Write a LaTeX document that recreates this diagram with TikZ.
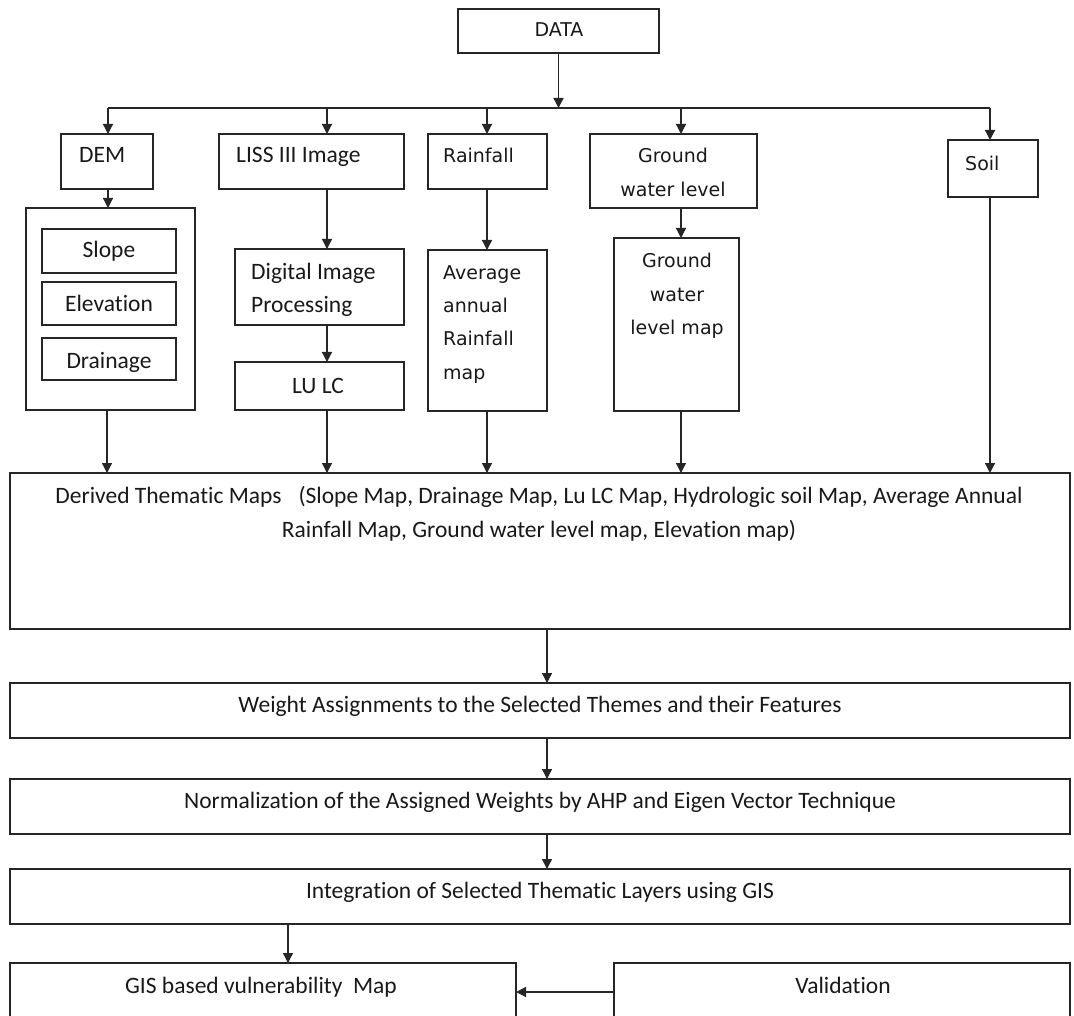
\documentclass[tikz,border=0pt]{standalone}
\usepackage{fontspec}
\setmainfont{Carlito}[Ligatures=NoCommon]
\newfontfamily\tahf{DejaVu Sans}[Ligatures=NoCommon]
\usetikzlibrary{arrows.meta}
\begin{document}
\begin{tikzpicture}[x=1pt,y=-1pt,
  box/.style={draw=black!85, line width=1.3pt, inner sep=0pt, outer sep=0pt, anchor=north west},
  arr/.style={draw=black!85, line width=1.3pt, -{Triangle[length=10pt,width=10pt]}},
  wire/.style={draw=black!85, line width=1.3pt},
  ct/.style={inner sep=0pt, font=\fontsize{23.5}{28}\selectfont, text=black!90},
  dt/.style={inner sep=0pt, font=\tahf\fontsize{19}{23}\selectfont, text=black!90},
]
\useasboundingbox (0,0) rectangle (1074,1016);
\clip (0,0) rectangle (1074,1016);
\fill[white] (0,0) rectangle (1074,1016);

% boxes
\node[box, minimum width=201pt, minimum height=44pt] (DATA) at (458,9) {};
\node[box, minimum width=92pt, minimum height=55pt] (DEM) at (61,134) {};
\node[box, minimum width=169pt, minimum height=202pt] (DEMo) at (26,208) {};
\node[box, minimum width=134pt, minimum height=44pt] (Slope) at (42,229) {};
\node[box, minimum width=134pt, minimum height=43pt] (Elev) at (42,282) {};
\node[box, minimum width=134pt, minimum height=42pt] (Drain) at (42,338) {};
\node[box, minimum width=185pt, minimum height=55pt] (LISS) at (219,134) {};
\node[box, minimum width=169pt, minimum height=76pt] (DIP) at (235,249) {};
\node[box, minimum width=169pt, minimum height=48pt] (LULC) at (235,362) {};
\node[box, minimum width=119pt, minimum height=55pt] (Rain) at (428,134) {};
\node[box, minimum width=119pt, minimum height=161pt] (Avg) at (428,250) {};
\node[box, minimum width=167pt, minimum height=74pt] (GWL) at (590,134) {};
\node[box, minimum width=125pt, minimum height=173pt] (GWLm) at (614,238) {};
\node[box, minimum width=90pt, minimum height=57pt] (Soil) at (948,140) {};
\node[box, minimum width=1060pt, minimum height=156pt] (Der) at (10,473) {};
\node[box, minimum width=1060pt, minimum height=55pt] (Wt) at (10,683) {};
\node[box, minimum width=1060pt, minimum height=55pt] (Nrm) at (10,779) {};
\node[box, minimum width=1060pt, minimum height=55pt] (Int) at (10,869) {};
\node[box, minimum width=506pt, minimum height=80pt] (GIS) at (10,963) {};
\node[box, minimum width=456pt, minimum height=80pt] (Val) at (614,963) {};

% texts
\node[dt, anchor=base] (tDATA) at (559,37) {DATA};
\node[ct, anchor=base west] (tDEM) at (79,163) {DEM};
\node[ct, anchor=base west] (tLISS) at (236,163) {LISS III Image};
\node[dt, anchor=base west] (tRain) at (443,163) {Rainfall};
\node[dt, anchor=base] (tGWL1) at (673,163) {Ground};
\node[dt, anchor=base] (tGWL2) at (673,197) {water level};
\node[dt, anchor=base west] (tSoil) at (965,171) {Soil};
\node[ct, anchor=base] (tSlope) at (109,258) {Slope};
\node[ct, anchor=base] (tElev) at (109,312) {Elevation};
\node[ct, anchor=base] (tDrain) at (109,368) {Drainage};
\node[ct, anchor=base west] (tDIP1) at (251,280) {Digital Image};
\node[ct, anchor=base west] (tDIP2) at (251,313) {Processing};
\node[ct, anchor=base] (tLULC) at (318,393) {LU LC};
\node[dt, anchor=base west] (tAvg1) at (443,280) {Average};
\node[dt, anchor=base west] (tAvg2) at (443,313) {annual};
\node[dt, anchor=base west] (tAvg3) at (443,346) {Rainfall};
\node[dt, anchor=base west] (tAvg4) at (443,380) {map};
\node[dt, anchor=base] (tGWLm1) at (677,268) {Ground};
\node[dt, anchor=base] (tGWLm2) at (677,302) {water};
\node[dt, anchor=base] (tGWLm3) at (677,335) {level map};
\node[ct, anchor=base] (tDer1) at (539,503) {Derived Thematic Maps\hspace{0.5em} (Slope Map, Drainage Map, Lu LC Map, Hydrologic soil Map, Average Annual};
\node[ct, anchor=base] (tDer2) at (539,537) {Rainfall Map, Ground water level map, Elevation map)};
\node[ct, anchor=base] (tWt) at (540,712) {Weight Assignments to the Selected Themes and their Features};
\node[ct, anchor=base] (tNrm) at (540,808) {Normalization of the Assigned Weights by AHP and Eigen Vector Technique};
\node[ct, anchor=base] (tInt) at (540,898) {Integration of Selected Thematic Layers using GIS};
\node[ct, anchor=base] (tGIS) at (261,993) {GIS based vulnerability\ \ Map};
\node[ct, anchor=base] (tVal) at (843,993) {Validation};

% connectors
\coordinate (busL) at (108,108);
\coordinate (busR) at (990,108);
\coordinate (xLISS) at (327,108);
\coordinate (xRain) at (487,108);
\coordinate (xGWL) at (681,108);
\coordinate (xDEM) at (107,0);
\coordinate (xMid) at (547,0);
\coordinate (xGIS) at (288,0);
\coordinate (yVal) at (0,992);

\draw[arr] (DATA.south) -- (DATA.south |- busL);
\draw[wire] (busL) -- (busR);
\draw[arr] (busL) -- (busL |- DEM.north);
\draw[arr] (xLISS) -- (xLISS |- LISS.north);
\draw[arr] (xRain) -- (xRain |- Rain.north);
\draw[arr] (xGWL) -- (xGWL |- GWL.north);
\draw[arr] (busR) -- (busR |- Soil.north);

\draw[arr] (busL |- DEM.south) -- (busL |- DEMo.north);
\draw[arr] (xLISS |- LISS.south) -- (xLISS |- DIP.north);
\draw[arr] (xLISS |- DIP.south) -- (xLISS |- LULC.north);
\draw[arr] (xRain |- Rain.south) -- (xRain |- Avg.north);
\draw[arr] (xGWL |- GWL.south) -- (xGWL |- GWLm.north);

\draw[arr] (xDEM |- DEMo.south) -- (xDEM |- Der.north);
\draw[arr] (xLISS |- LULC.south) -- (xLISS |- Der.north);
\draw[arr] (xRain |- Avg.south) -- (xRain |- Der.north);
\draw[arr] (xGWL |- GWLm.south) -- (xGWL |- Der.north);
\draw[arr] (busR |- Soil.south) -- (busR |- Der.north);

\draw[arr] (xMid |- Der.south) -- (xMid |- Wt.north);
\draw[arr] (xMid |- Wt.south) -- (xMid |- Nrm.north);
\draw[arr] (xMid |- Nrm.south) -- (xMid |- Int.north);
\draw[arr] (xGIS |- Int.south) -- (xGIS |- GIS.north);
\draw[arr] (Val.west |- yVal) -- (GIS.east |- yVal);
\end{tikzpicture}
\end{document}
